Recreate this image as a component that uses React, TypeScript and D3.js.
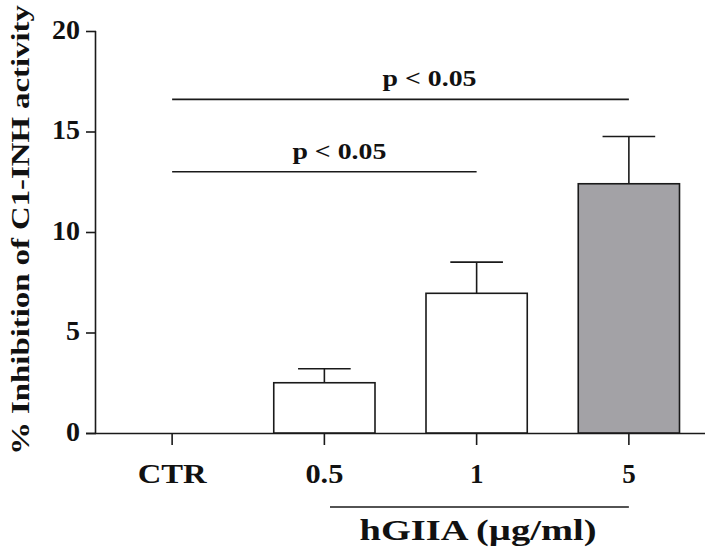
import React, { useEffect, useRef } from 'react';
import * as d3 from 'd3';

const categories = ['CTR', '0.5', '1', '5'];
const means = [0, 2.5, 6.95, 12.4];
const errors = [0, 0.7, 1.55, 2.35];
const fills = ['#ffffff', '#ffffff', '#ffffff', '#a3a2a6'];
const yTicks = [0, 5, 10, 15, 20];
const brackets = [
    { from: 'CTR', to: '1', level: 13, label: 'p < 0.05' },
    { from: 'CTR', to: '5', level: 16.6, label: 'p < 0.05' },
];

// label placement tweaks (px), kept out of the data
const bracketLabelShift = [15, 29];
const tickLabelWidth: Record<string, number> = { CTR: 69, '0.5': 38 };

// horizontal stretch factor so the text spans the wanted width
const stretch = (node: SVGTextElement, target: number) => target / node.getComputedTextLength();

const App = () => {
    const ref = useRef<SVGSVGElement>(null);

    useEffect(() => {
        const width = 709;
        const height = 559;
        const font = '"Liberation Serif", "Times New Roman", serif';
        const ink = '#1a1a1a';

        const svg = d3.select(ref.current);
        svg.selectAll('*').remove();

        const x = d3.scaleBand()
            .domain(categories)
            .range([96, 705])
            .padding(0);

        const y = d3.scaleLinear()
            .domain([0, 20])
            .range([433, 31]);

        const cx = (c: string) => (x(c) as number) + x.bandwidth() / 2;
        const barW = x.bandwidth() * 0.665;
        const capW = barW * 0.52;

        // y axis
        const yAxis = svg.append('g')
            .attr('transform', 'translate(96,0)')
            .call(d3.axisLeft(y).tickValues(yTicks).tickSize(10).tickPadding(6).tickFormat(d3.format('d')));
        yAxis.select('.domain').attr('stroke', ink).attr('stroke-width', 1.6).attr('d', `M-0.5,${y(20)}V${y(0)}`);
        yAxis.selectAll('.tick line').attr('stroke', ink).attr('stroke-width', 1.6);
        yAxis.selectAll('.tick text')
            .attr('font-family', font).attr('font-weight', 'bold').attr('font-size', 28)
            .attr('dy', '0.25em').attr('fill', '#111');

        // x axis
        const xAxis = svg.append('g')
            .attr('transform', `translate(0,${y(0)})`)
            .call(d3.axisBottom(x).tickSize(12).tickPadding(19).tickSizeOuter(0));
        xAxis.select('.domain').attr('stroke', ink).attr('stroke-width', 1.6).attr('d', 'M86,0.5H705');
        xAxis.selectAll('.tick line').attr('stroke', ink).attr('stroke-width', 1.6);
        xAxis.selectAll<SVGTextElement, string>('.tick text')
            .attr('font-family', font).attr('font-weight', 'bold').attr('font-size', 27).attr('fill', '#111')
            .each(function (d) {
                if (tickLabelWidth[d]) {
                    d3.select(this).attr('transform', `scale(${stretch(this, tickLabelWidth[d])},1)`);
                }
            });

        // error bars
        const data = categories.map((c, i) => ({ c, m: means[i], e: errors[i], f: fills[i] }));
        const eb = svg.append('g').attr('stroke', ink).attr('stroke-width', 1.6);
        data.filter(d => d.m > 0).forEach(d => {
            eb.append('line').attr('x1', cx(d.c)).attr('x2', cx(d.c)).attr('y1', y(d.m)).attr('y2', y(d.m + d.e));
            eb.append('line').attr('x1', cx(d.c) - capW / 2).attr('x2', cx(d.c) + capW / 2)
                .attr('y1', y(d.m + d.e)).attr('y2', y(d.m + d.e));
        });

        // bars
        svg.append('g').selectAll('rect')
            .data(data.filter(d => d.m > 0))
            .join('rect')
            .attr('x', d => cx(d.c) - barW / 2)
            .attr('y', d => y(d.m))
            .attr('width', barW)
            .attr('height', d => y(0) - y(d.m))
            .attr('fill', d => d.f)
            .attr('stroke', ink)
            .attr('stroke-width', 1.6);

        // significance brackets
        brackets.forEach((b, i) => {
            const x1 = cx(b.from);
            const x2 = cx(b.to);
            svg.append('line')
                .attr('x1', x1).attr('x2', x2)
                .attr('y1', y(b.level)).attr('y2', y(b.level))
                .attr('stroke', ink).attr('stroke-width', 1.6);
            const t = svg.append('text')
                .attr('text-anchor', 'middle')
                .attr('font-family', font).attr('font-weight', 'bold').attr('font-size', 23)
                .attr('fill', '#111')
                .text(b.label);
            t.attr('transform', `translate(${(x1 + x2) / 2 + bracketLabelShift[i]},${y(b.level) - 13}) scale(${stretch(t.node() as SVGTextElement, 94)},1)`);
        });

        // group line + label
        svg.append('line')
            .attr('x1', 330).attr('x2', cx('5'))
            .attr('y1', 507).attr('y2', 507)
            .attr('stroke', ink).attr('stroke-width', 1.6);
        const gl = svg.append('text')
            .attr('text-anchor', 'middle')
            .attr('font-family', font).attr('font-weight', 'bold').attr('font-size', 29)
            .attr('fill', '#111')
            .text('hGIIA (\u00b5g/ml)');
        gl.attr('transform', `translate(478,540) scale(${stretch(gl.node() as SVGTextElement, 237)},1)`);

        // y label
        const yl = svg.append('text')
            .attr('text-anchor', 'middle')
            .attr('font-family', font).attr('font-weight', 'bold').attr('font-size', 25)
            .attr('fill', '#111')
            .text('% Inhibition of C1-INH activity');
        yl.attr('transform', `translate(29,230) rotate(-90) scale(${stretch(yl.node() as SVGTextElement, 450)},1)`);

        svg.attr('width', width).attr('height', height);
    }, []);

    return (
        <div style={{ position: 'absolute', left: 0, top: 0 }}>
            <svg ref={ref} width={709} height={559} style={{ display: 'block', background: '#fff' }} />
        </div>
    );
};

export default App;
